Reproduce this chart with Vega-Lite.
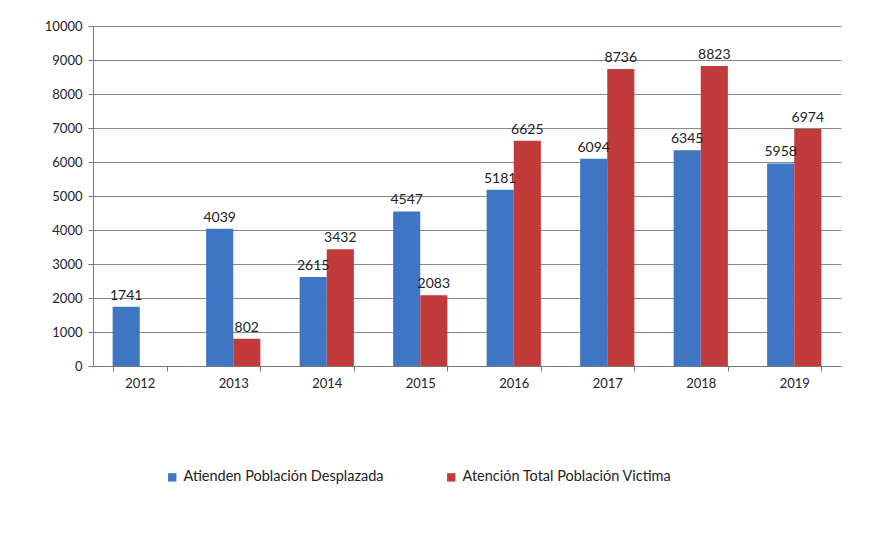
{
  "$schema": "https://vega.github.io/schema/vega-lite/v6.json",
  "width": 748,
  "height": 340,
  "autosize": "none",
  "padding": {"left": 93, "top": 26, "right": 43, "bottom": 178},
  "background": "#ffffff",
  "config": {
    "font": "Lato",
    "view": {"stroke": null}
  },
  "data": {
    "values": [
      {"year": "2012", "serie": "Atienden Población Desplazada", "value": 1741},
      {"year": "2013", "serie": "Atienden Población Desplazada", "value": 4039},
      {"year": "2013", "serie": "Atención Total Población Victima", "value": 802},
      {"year": "2014", "serie": "Atienden Población Desplazada", "value": 2615},
      {"year": "2014", "serie": "Atención Total Población Victima", "value": 3432},
      {"year": "2015", "serie": "Atienden Población Desplazada", "value": 4547},
      {"year": "2015", "serie": "Atención Total Población Victima", "value": 2083},
      {"year": "2016", "serie": "Atienden Población Desplazada", "value": 5181},
      {"year": "2016", "serie": "Atención Total Población Victima", "value": 6625},
      {"year": "2017", "serie": "Atienden Población Desplazada", "value": 6094},
      {"year": "2017", "serie": "Atención Total Población Victima", "value": 8736},
      {"year": "2018", "serie": "Atienden Población Desplazada", "value": 6345},
      {"year": "2018", "serie": "Atención Total Población Victima", "value": 8823},
      {"year": "2019", "serie": "Atienden Población Desplazada", "value": 5958},
      {"year": "2019", "serie": "Atención Total Población Victima", "value": 6974}
    ]
  },
  "encoding": {
    "x": {
      "field": "year", "type": "nominal", "title": null,
      "scale": {"paddingInner": 0.42, "paddingOuter": 0.21},
      "axis": {
        "labelAngle": 0, "labelFontSize": 13, "labelColor": "#222", "labelPadding": 6,
        "domainColor": "#777", "tickColor": "#777", "tickBand": "extent", "tickSize": 5
      }
    },
    "y": {
      "field": "value", "type": "quantitative", "title": null,
      "scale": {"domain": [0, 10000]},
      "axis": {
        "tickCount": 10, "format": "d", "labelFontSize": 13, "labelColor": "#222",
        "grid": true, "gridColor": "#8a8a8a", "gridWidth": 1,
        "domainColor": "#777", "tickColor": "#777", "tickSize": 5, "labelPadding": 6
      }
    },
    "xOffset": {
      "field": "serie", "type": "nominal",
      "sort": ["Atienden Población Desplazada", "Atención Total Población Victima"],
      "scale": {"paddingInner": 0, "paddingOuter": 0}
    }
  },
  "layer": [
    {
      "mark": {"type": "bar"},
      "encoding": {
        "color": {
          "field": "serie", "type": "nominal",
          "sort": ["Atienden Población Desplazada", "Atención Total Población Victima"],
          "scale": {"range": ["#3f76c4", "#c23b3b"]},
          "legend": {
            "title": null, "orient": "none", "direction": "horizontal",
            "legendX": 72, "legendY": 444,
            "symbolType": "square", "symbolSize": 70, "symbolStrokeWidth": 0,
            "labelFontSize": 14.5, "labelColor": "#222", "columnPadding": 60,
            "labelOffset": 4, "labelLimit": 400
          }
        }
      }
    },
    {
      "mark": {"type": "text", "baseline": "bottom", "dy": -4, "fontSize": 14, "color": "#222"},
      "encoding": {
        "text": {"field": "value", "type": "quantitative", "format": "d"}
      }
    }
  ]
}
